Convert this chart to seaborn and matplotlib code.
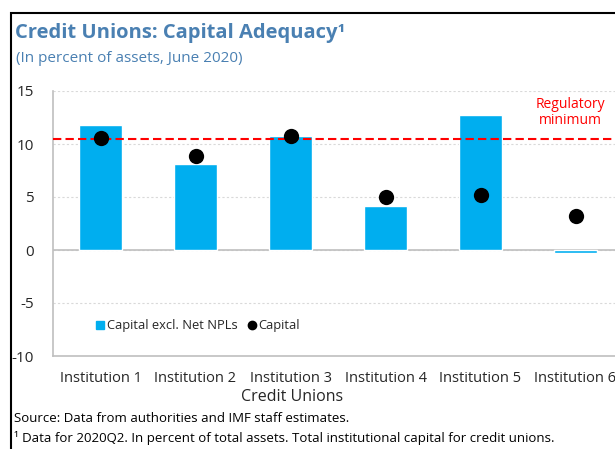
import matplotlib.pyplot as plt
import matplotlib.patches as mpatches
from matplotlib.lines import Line2D
import pandas as pd
import seaborn as sns

institutions = ["Institution 1", "Institution 2", "Institution 3",
                "Institution 4", "Institution 5", "Institution 6"]
capital_excl_npl = [11.8, 8.1, 10.8, 4.15, 12.7, -0.25]
capital = [10.6, 8.9, 10.8, 5.0, 5.15, 3.25]
regulatory_minimum = 10.5
y_ticks = [-10, -5, 0, 5, 10, 15]

df = pd.DataFrame({"institution": institutions,
                   "excl": capital_excl_npl,
                   "capital": capital})

sns.set_style("white")
plt.rcParams["font.family"] = ["Open Sans", "DejaVu Sans"]
plt.rcParams["axes.unicode_minus"] = False

bar_color = "#00AEEF"
title_color = "#4A80B2"
grey = "#BFBFBF"

fig = plt.figure(figsize=(6.15, 4.49), dpi=100)
ax = fig.add_axes([53 / 615, 93 / 449, 570 / 615, 265 / 449])

sns.barplot(data=df, x="institution", y="excl", color=bar_color,
            width=0.45, saturation=1, ax=ax, zorder=2)
sns.stripplot(data=df, x="institution", y="capital", color="black",
              jitter=False, size=11, ax=ax, zorder=4)
ax.axhline(regulatory_minimum, color="#FF0000", ls=(0, (4, 2)), lw=1.5, zorder=3)

ax.set_ylim(-10, 15)
ax.set_yticks(y_ticks)
ax.yaxis.grid(True, color="#D9D9D9", ls=(0, (2, 2)), lw=0.8)
ax.set_axisbelow(True)
ax.axhline(0, color=grey, lw=1.2, zorder=1)

for s in ["top", "right"]:
    ax.spines[s].set_visible(False)
for s in ["left", "bottom"]:
    ax.spines[s].set_color(grey)
    ax.spines[s].set_linewidth(1.2)

ax.tick_params(axis="y", labelsize=11, length=0, pad=14)
ax.tick_params(axis="x", labelsize=10.5, length=0, pad=11)
ax.set_xlabel("")
ax.set_ylabel("")

ax.text(4.95, 13.0, "Regulatory\nminimum", color="#FF0000", fontsize=10,
        ha="center", va="center", linespacing=1.1)

handles = [Line2D([], [], marker="s", ls="", color=bar_color, markersize=6),
           Line2D([], [], marker="o", ls="", color="black", markersize=6)]
ax.legend(handles, ["Capital excl. Net NPLs", "Capital"], loc="center left",
          bbox_to_anchor=(0.05, 0.115), ncol=2, frameon=False, fontsize=9.3,
          handletextpad=0.05, columnspacing=0.6, handlelength=1)

fig.text(292 / 615, 1 - 397 / 449, "Credit Unions", ha="center", va="center",
         fontsize=11.5, color="#262626")
fig.text(15 / 615, 1 - 33 / 449, "Credit Unions: Capital Adequacy\u00b9",
         fontsize=14.5, fontweight="bold", color=title_color, va="center")
fig.text(16 / 615, 1 - 58 / 449, "(In percent of assets, June 2020)",
         fontsize=11, color=title_color, va="center")
fig.text(14 / 615, 1 - 418 / 449, "Source: Data from authorities and IMF staff estimates.",
         fontsize=9.5, color="black", va="center")
fig.text(14 / 615, 1 - 438 / 449,
         "\u00b9 Data for 2020Q2. In percent of total assets. Total institutional capital for credit unions.",
         fontsize=9.5, color="black", va="center")

fig.add_artist(mpatches.Rectangle((11 / 615, -0.1), 2, 0.1 + 436 / 449,
                                  transform=fig.transFigure, fill=False,
                                  ec="black", lw=1.5))

fig.savefig("out.png", dpi=100)
